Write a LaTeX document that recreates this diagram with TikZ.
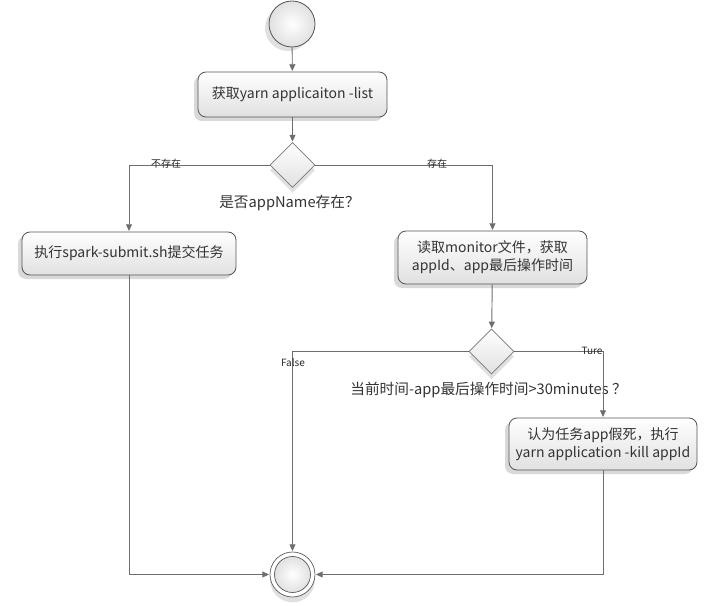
\documentclass[tikz,border=0pt]{standalone}
\usepackage{fontspec}
\setmainfont{Noto Sans CJK SC}
\usetikzlibrary{arrows.meta,shadows,shapes.geometric}
\definecolor{edgec}{HTML}{6E6E6E}
\definecolor{bordc}{HTML}{555555}
\definecolor{txtc}{HTML}{333333}
\tikzset{
  act/.style={draw=bordc, line width=0.6pt, rounded corners=6pt, top color=white, bottom color=black!12,
    text=txtc, font=\fontsize{10.5pt}{13.5pt}\selectfont, align=center, inner sep=2pt,
    drop shadow={shadow xshift=-3pt, shadow yshift=-3pt, opacity=0.25, fill=black!60}},
  dec/.style={diamond, draw=bordc!80, line width=0.5pt, minimum width=33.75pt, minimum height=33.75pt, inner sep=0pt,
    top color=white, bottom color=black!12,
    drop shadow={shadow xshift=0pt, shadow yshift=-4pt, opacity=0.2, fill=black!60}},
  startc/.style={circle, draw=bordc, line width=0.6pt, minimum size=34.5pt, inner sep=0pt,
    inner color=white, outer color=black!12,
    drop shadow={shadow xshift=-3pt, shadow yshift=-3pt, opacity=0.2, fill=black!60}},
  endc/.style={circle, draw=bordc, line width=0.5pt, minimum size=33.75pt, inner sep=0pt, fill=white,
    drop shadow={shadow xshift=0pt, shadow yshift=-4pt, opacity=0.2, fill=black!60}},
  endin/.style={circle, draw=bordc, line width=0.5pt, minimum size=27pt, inner sep=0pt,
    inner color=white, outer color=black!12},
  arr/.style={draw=edgec, line width=0.7pt, -{Triangle[length=5pt,width=4.5pt]}, shorten >=0.5pt},
  lbl/.style={text=txtc, font=\fontsize{11pt}{13pt}\selectfont, inner sep=0pt},
  small/.style={text=black!85, font=\fontsize{7.5pt}{8pt}\selectfont, inner sep=0pt}
}
\begin{document}
\begin{tikzpicture}[x=0.75pt,y=-0.75pt]
\useasboundingbox (0,0) rectangle (707,606);
\node[startc] (start) at (292,24) {};
\node[act, minimum width=141.75pt, minimum height=33.75pt] (get) at (292.5,94.5) {获取yarn applicaiton -list};
\node[dec] (d1) at (292.5,165) {};
\node[lbl] (q1) at (289.5,203) {是否appName存在？};
\node[act, minimum width=160.5pt, minimum height=32.25pt] (submit) at (129,253.5) {执行spark-submit.sh提交任务};
\node[act, minimum width=141.75pt, minimum height=39.75pt] (read) at (492.5,257.5) {读取monitor文件，获取\\appId、app最后操作时间};
\node[dec] (d2) at (491.5,351.5) {};
\node[lbl] (q2) at (488.5,390) {当前时间-app最后操作时间>30minutes ？};
\node[act, minimum width=141pt, minimum height=39pt] (kill) at (603,444) {认为任务app假死，执行\\yarn application -kill appId};
\node[endc] (end) at (292.5,574.5) {};
\node[endin] (endi) at (end.center) {};

\draw[arr] (start) -- (get);
\draw[arr] (get) -- (d1);
\draw[arr] (d1.west) -| (submit.north);
\node[small] (l1) at (166,164) {不存在};
\draw[arr] (d1.east) -| (read.north);
\node[small] (l2) at (437,164) {存在};
\draw[arr] (read) -- (d2);
\draw[arr] (d2.west) -| (end.north);
\node[small] (l3) at (293,363) {False};
\draw[arr] (d2.east) -| (kill.north);
\node[small] (l4) at (592,351) {Ture};
\draw[arr] (submit.south) |- (end.west);
\draw[arr] (kill.south) |- (end.east);
\end{tikzpicture}
\end{document}
